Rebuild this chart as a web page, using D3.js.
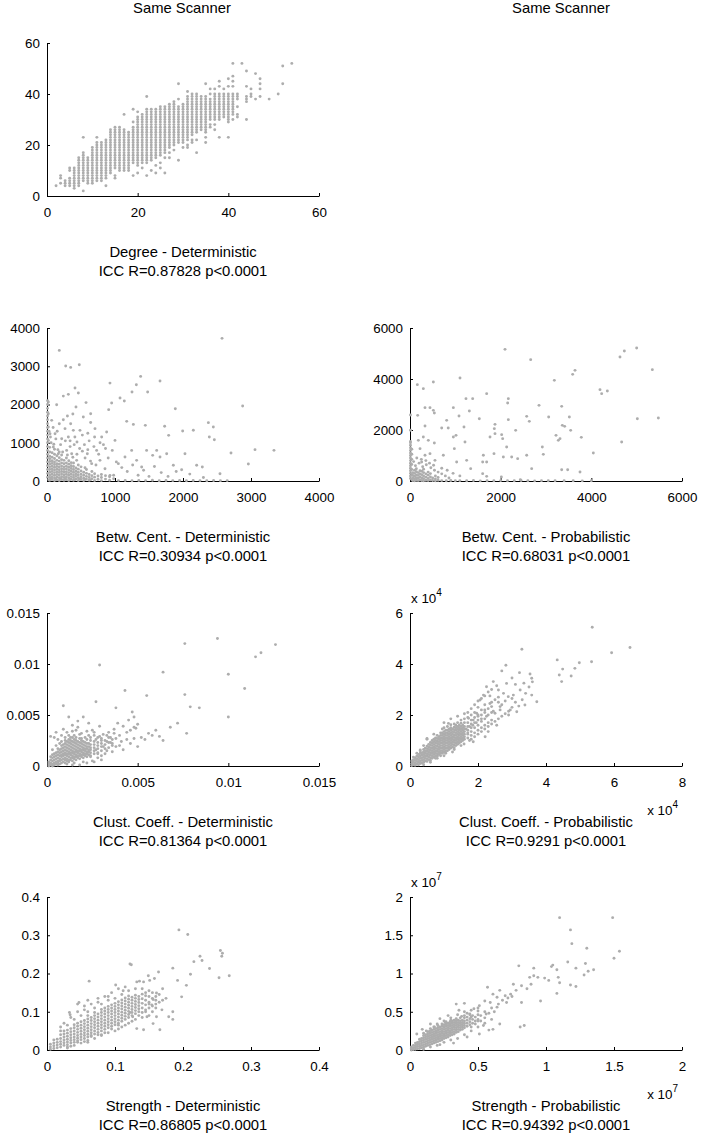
<!DOCTYPE html>
<html>
<head>
<meta charset="utf-8">
<script src="https://cdn.jsdelivr.net/npm/d3@7/dist/d3.min.js"></script>
<style>
  body { margin: 0; background: #fff; }
  svg { display: block; }
</style>
</head>
<body>
<svg id="fig" width="705" height="1134"></svg>
<script>
// ---- data ----
// dense data are kept as columns [x, [y, y, ...]], sparse ones as [x, y]

const degreeCols = [
  [2,[4]],[3,[5,7,8]],[4,[4,5,6]],[5,[4,5,6,7,10,11]],[6,[3,4,5,6,7,8,9,10,11]],
  [7,[4,5,6,7,8,9,10,11,12,13,14,15]],[8,[2,6,7,8,9,10,11,12,13,14,15,16,17,23]],
  [9,[5,6,7,8,9,10,11,12,13,14,15]],[10,[5,6,7,8,9,10,11,12,13,14,15,16,17,18,19]],
  [11,[6,7,8,9,10,11,12,13,14,15,16,17,18,19,20,21,23]],[12,[6,7,8,9,10,11,12,13,14,15,16,17,18,19,20,21]],
  [13,[4,7,8,9,10,11,12,13,14,15,16,17,18,19,20,21,22]],[14,[9,10,11,12,13,14,15,16,17,18,19,20,21,22,23,24,25,26]],
  [15,[7,8,11,12,13,14,15,16,17,18,19,20,21,22,23,24,25,26,27]],[16,[10,11,12,13,14,15,16,17,18,19,20,21,22,23,24,25,26,27]],
  [17,[10,11,12,13,14,15,16,17,18,19,20,21,22,23,24,25,26,32]],[18,[10,11,12,13,14,15,16,17,18,19,20,21,22,23,24,25]],
  [19,[8,13,14,15,16,17,18,19,20,21,22,23,24,25,26,27,29,34]],
  [20,[9,12,13,14,15,16,17,18,19,20,21,22,23,24,25,26,27,28,29,30,31,33]],
  [21,[11,13,14,15,16,17,18,19,20,21,22,23,24,25,26,27,28,29,30,31,32]],
  [22,[8,13,14,15,16,17,18,19,20,21,22,23,24,25,26,27,28,29,30,31,32,33,34,39]],
  [23,[10,14,15,16,17,18,19,20,21,22,23,24,25,26,27,28,29,30,31,32,33,34]],
  [24,[9,12,15,16,17,18,19,20,21,22,23,24,25,26,27,28,29,30,31,32,33,34]],
  [25,[11,13,16,17,18,19,20,21,22,23,24,25,26,27,28,29,30,31,32,33,34,35]],
  [26,[9,15,17,18,19,20,21,22,23,24,25,26,27,28,29,30,31,32,33,34,35]],
  [27,[15,17,19,20,21,22,23,24,25,26,27,28,29,30,31,32,33,34,35,36]],
  [28,[18,20,21,22,23,24,25,26,27,28,29,30,31,32,33,34,35,36,37]],
  [29,[14,21,22,23,24,25,26,27,28,29,30,31,32,33,34,35,38,44]],
  [30,[19,21,22,23,24,25,26,27,28,29,30,31,32,33,34,35,36]],
  [31,[19,20,22,23,24,25,26,27,28,29,30,31,32,33,34,35,36,37,38,39,41]],
  [32,[21,22,24,25,26,27,28,29,30,31,32,33,34,35,36,37,38,39,40]],
  [33,[17,22,25,26,27,28,29,30,31,32,33,34,35,36,37,38,39,40]],
  [34,[26,27,28,29,30,31,32,33,34,35,36,37,38,39]],
  [35,[21,23,25,26,27,28,29,30,31,32,33,34,35,36,37,38,39,44]],
  [36,[27,28,30,31,32,33,34,35,36,37,38,40,42]],
  [37,[26,28,30,31,32,33,34,35,36,37,38,39,40,42]],
  [38,[23,30,31,32,33,34,35,36,37,38,39,40,43,45]],
  [39,[31,32,33,34,35,36,37,38,39,40,42]],
  [40,[23,29,30,31,32,33,34,35,36,37,38,39,40,43,46]],
  [41,[30,32,33,34,35,36,37,38,39,40,43,45,47,52]],
  [42,[31,32,35,38,39,40]],[43,[52]],[44,[30,37,38,39,43,49]],[45,[39,40,42]],
  [46,[38,48]],[47,[39,42,44,46]],[49,[38]],[51,[40]],[52,[44,51]],[54,[52]]
];

const betwDetCols = [
  [8,[100,200,300,400,500,600,700,800,900,1000,1100,1200,1300,1400,1500,1600,1700,1800,1900,2000,2100]],
  [40,[20,90,160,230,300,370,440,510,580,650,760,880]],
  [75,[40,110,180,250,320,390,460,530,620,740]],
  [110,[10,80,150,220,290,360,430,500,590,700,830]],
  [145,[30,100,170,240,310,380,450,540,660]],
  [180,[15,85,155,225,295,365,440,520,610,760]],
  [215,[40,110,180,250,320,390,470,560,680]],
  [250,[20,90,160,230,300,370,450,540]],
  [285,[35,105,175,245,315,385,470,600]],
  [320,[10,80,150,220,290,360,440,530]],
  [355,[45,115,185,255,325,400,480]],
  [390,[20,90,160,230,300,380,470]],
  [425,[50,120,190,260,340]],
  [460,[15,85,155,230,310,420]],
  [500,[40,110,180,260,370]],
  [540,[10,75,150,230]],
  [580,[50,120,200,300]],
  [620,[20,90,170]],
  [660,[60,140,250]],
  [700,[15,100,190]],
  [750,[45,130]],
  [800,[10,90,170]],
  [860,[50,140]],
  [920,[20,110]],
  [980,[60,150]]
];
const betwDetPts = [
  [1050,10],[1150,15],[1250,8],[1350,12],[1450,10],[1550,18],[1650,6],[1750,12],[1850,10],[1950,14],
  [2050,8],[2150,12],[2250,10],[2350,6],[2450,12],[2550,9],[2650,10],
  [181,3415],[275,3005],[348,2970],[475,3040],[20,2065],[142,1995],[240,2220],[314,2265],[412,2430],
  [461,2300],[426,1935],[574,2050],[642,1760],[642,1530],[926,2560],[907,1865],[951,2040],[1074,2170],
  [1137,2090],[1250,2325],[1314,2515],[1377,2735],[1480,2325],[1662,2613],[1887,1890],[1172,1560],
  [1270,1480],[1446,1455],[1730,1430],[1789,1193],[1995,1307],[2152,1325],[2373,1525],[2446,1411],
  [2461,1080],[2387,1150],[2574,3730],[2877,1960],[2706,732],[3059,819],[3338,801],[2961,444],
  [2544,190],[2201,410],[2284,366],[2029,714],[1980,296],[1858,410],[1760,714],[1662,627],[1613,800],
  [1554,670],[1465,800],[1392,366],[1318,540],[1245,800],[1147,627],[1049,453],[1000,1062],[877,1280],
  [804,1150],[730,800],[706,1368],[779,540],[853,322],[926,148],[593,714],[657,453],[559,348],
  [534,1672],[485,1324],[441,1019],[387,1324],[348,1498],[314,1150],[265,1368],[216,1106],[181,1498],
  [118,1237],[69,1585],[44,1237],[20,1760],[20,1411],[20,1062],[93,888],[167,714],[289,800],[363,714],[436,540],
  [60,1000],[130,1100],[200,950],[270,1050],[340,900],[410,1150],[480,850],[550,950],[620,1050],[690,900],
  [760,700],[830,950],[900,600],[960,800],[1020,500],[1100,350],[1180,250],[1260,420],[1340,150],[1420,280],
  [1500,120],[1580,380],[1680,220],[1780,120],[1900,250],[2100,180],[2300,90],[30,1300],[90,1400],[150,1300],
  [240,1600],[300,1700],[380,1750],[520,1200],[600,1250],[700,1150],[780,1000],[860,850],[560,600],[640,520],
  [720,420],[520,780],[600,820],[380,620],[440,700],[300,680],[230,760],[160,820],[100,960],[50,1150],
  [400,950],[340,1050],[25,30],[60,60],[130,50],[200,60],[270,55],[340,40],[410,35],[480,55],[560,40],[640,30]
];

const betwProbCols = [
  [10,[100,200,300,400,500,600,700,800,900,1000,1100,1200,1300,1400,1500,1550]],
  [40,[50,250,450,650,850,1050,1250]],
  [60,[20,120,220,330]],
  [100,[10,90,190,300,420]],
  [140,[30,130,240,360,480]],
  [180,[15,110,220,330]],
  [220,[40,160,280,400]],
  [260,[20,120,250,380]],
  [300,[10,90,200,330,460]],
  [350,[30,150,280]],
  [400,[15,100,230,350]],
  [450,[40,160,290]],
  [500,[20,120]],
  [560,[10,80,200]],
  [620,[30,140]],
  [700,[15]]
];
const betwProbPts = [
  [800,12],[900,20],[1000,8],[1100,15],[1250,10],[1400,18],[1550,6],[1700,12],[1850,10],[2000,15],
  [2150,8],[2300,12],[2450,20],[2600,10],[2750,6],[2900,14],[3050,10],[3200,8],[3400,12],[3600,10],
  [3800,6],[4000,12],[10,1990],[10,2590],
  [2096,5163],[2662,4758],[3640,4340],[3588,4183],[3184,3948],[4632,4863],[4728,5098],[5000,5216],
  [5346,4366],[4191,3582],[4228,3425],[4353,3529],[5015,2444],[5478,2471],[4669,1529],[4044,1098],
  [3346,2928],[3515,2510],[3360,2183],[3412,2144],[3544,1987],[3779,1712],[3221,1791],[3272,1595],
  [3309,1660],[3059,2510],[2846,2967],[2632,2340],[2574,2536],[2919,1333],[2941,1046],[2574,1007],
  [2331,1987],[2169,3229],[2154,3059],[2169,2405],[2132,1333],[2059,941],[2243,941],[2375,876],
  [1691,3425],[1875,2222],[1860,2052],[1875,1856],[1765,1725],[2022,1817],[2044,1660],[1853,1072],
  [1618,1007],[1603,745],[1691,745],[1529,2444],[1382,3229],[1235,3229],[1103,4039],[1309,2745],
  [1191,2118],[1213,1529],[1081,2549],[1015,1791],[956,1725],[978,1268],[809,2379],[699,2078],
  [735,1007],[843,2078],[956,2876],[515,3882],[162,3778],[294,3621],[331,2876],[441,2876],[515,2771],
  [537,2667],[331,2157],[169,2575],[294,1725],[404,1595],[537,1490],[184,1595],[221,1268],[441,1072],
  [551,810],[331,1007],[257,745],[1029,745],[1338,484],[1603,288],[1250,810],[1691,183],[2015,157],
  [2684,484],[3346,444],[3478,444],[3750,353],[2434,52],
  [120,600],[200,700],[280,560],[360,640],[460,520],[540,420],[620,350],[700,280],[780,200],[860,120],
  [150,900],[250,850],[350,800],[430,700],[520,620],[80,760],[700,500],[820,420],[950,300],[1100,200]
];

// clustering coefficient, deterministic: values in units of 1e-4
const clustDetCols = [
  [1,[0,2,4]],[2,[1,3,6,9]],[3,[0,2,5,8,11]],[4,[1,3,6,9,12,28]],[5,[2,4,7,10,13]],
  [6,[1,3,5,8,11,14,17]],[7,[2,5,7,10,13,16]],[8,[3,6,9,11,14,17,20]],[9,[4,7,10,12,15,18,21]],
  [10,[3,6,8,11,13,16,19,22,25]],[11,[5,7,10,12,15,18,21,24]],[12,[4,6,9,12,14,17,20,23,26]],
  [13,[6,8,11,13,16,19,22,25]],[14,[5,8,10,13,15,18,21,24,28]],[15,[7,9,12,14,17,20,23,26]],
  [16,[6,9,11,14,16,19,22,25]],[17,[8,10,13,15,18,21,24]],[18,[7,10,12,15,17,20,23,27]],
  [19,[9,11,14,16,19,22,25]],[20,[8,11,13,16,18,21,24]],[21,[10,12,15,17,20,23]],
  [22,[9,12,14,17,19,22,26]],[23,[11,14,16,19,22]],[24,[10,13,16,18,21,25]],
  [26,[12,15,18,21,24]],[28,[13,17,20,23,28]],[30,[15,19,22,27]],[32,[17,21,25]],
  [34,[18,23,28]],[36,[20,26]]
];
const clustDetPts = [
  [94,125],[76,120],[126,119],[115,107],[118,111],[29,99],[64,92],[100,90],[109,76],[76,70],[55,69],
  [43,74],[38,57],[27,63],[9,59],[79,58],[84,57],[100,48],[77,32],[64,25],[58,30],[54,26],[47,53],
  [48,48],[50,41],[49,37],[48,27],[50,19],[45,45],[42,39],[39,42],[37,32],[33,30],[35,23],[29,39],
  [26,30],[23,42],[20,48],[17,44],[14,40],[12,48],[2,29],[5,33],[22,12],[27,16],[31,19],[38,19],
  [44,26],[42,16],[24,9],[8,30],[11,33],[16,35],[19,32],[25,35],[28,12],[33,15],
  [5,20],[8,24],[10,28],[12,30],[15,30],[18,31],[21,28],[24,28],[27,26],[30,25],[33,24],[36,22],
  [38,27],[40,30],[44,33],[46,35],[48,38],[41,24],[35,28],[31,31],[26,33],[22,34],[17,38],[14,34],
  [9,36],[6,26],[3,16],[7,22],[28,8],[32,12],[36,14],[40,20],[46,22],[52,28],[56,32],[60,35],[62,29],
  [68,38],[72,42],[25,5],[30,10],[20,4],[15,3],[18,1],[22,3],[26,4],[30,6],[13,28],[16,28],[19,27],
  [23,30],[29,29],[34,33],[37,36],[11,2],[14,1]
];

// clustering coefficient, probabilistic: values in units of 1e4
const clustProbCols = [
  [0.05,[0.02,0.1,0.2]],[0.1,[0.05,0.15,0.25,0.35]],[0.15,[0.03,0.12,0.22,0.32]],
  [0.2,[0.08,0.18,0.28,0.38,0.5]],[0.25,[0.05,0.15,0.25,0.35,0.45]],[0.3,[0.1,0.2,0.3,0.4,0.5,0.6]],
  [0.35,[0.12,0.22,0.32,0.42,0.52]],[0.4,[0.15,0.25,0.35,0.45,0.55,0.65,0.8]],
  [0.45,[0.2,0.3,0.4,0.5,0.6,0.7]],[0.5,[0.18,0.28,0.38,0.48,0.58,0.68,0.78,1.05]],
  [0.55,[0.25,0.35,0.45,0.55,0.65,0.75,0.85]],[0.6,[0.22,0.32,0.42,0.52,0.62,0.72,0.82,0.92]],
  [0.65,[0.3,0.4,0.5,0.6,0.7,0.8,0.9,1.0]],[0.7,[0.35,0.45,0.55,0.65,0.75,0.85,0.95,1.05]],
  [0.75,[0.3,0.4,0.5,0.6,0.7,0.8,0.9,1.0,1.1]],[0.8,[0.38,0.48,0.58,0.68,0.78,0.88,0.98,1.08,1.2]],
  [0.85,[0.45,0.55,0.65,0.75,0.85,0.95,1.05,1.15]],[0.9,[0.4,0.5,0.6,0.7,0.8,0.9,1.0,1.1,1.2,1.3]],
  [0.95,[0.5,0.6,0.7,0.8,0.9,1.0,1.1,1.2,1.3]],[1.0,[0.55,0.65,0.75,0.85,0.95,1.05,1.15,1.25,1.35,1.5]],
  [1.05,[0.5,0.6,0.7,0.8,0.9,1.0,1.1,1.2,1.3,1.4]],[1.1,[0.6,0.7,0.8,0.9,1.0,1.1,1.2,1.3,1.4,1.55]],
  [1.15,[0.65,0.75,0.85,0.95,1.05,1.15,1.25,1.35,1.45]],[1.2,[0.7,0.8,0.9,1.0,1.1,1.2,1.3,1.4,1.5,1.62]],
  [1.25,[0.75,0.85,0.95,1.05,1.15,1.25,1.35,1.45]],[1.3,[0.72,0.82,0.92,1.02,1.12,1.22,1.32,1.42,1.52,1.65]],
  [1.35,[0.8,0.9,1.0,1.1,1.2,1.3,1.4,1.5,1.6]],[1.4,[0.85,0.95,1.05,1.15,1.25,1.35,1.45,1.55,1.7]],
  [1.45,[0.9,1.0,1.1,1.2,1.3,1.4,1.5,1.6]],[1.5,[0.95,1.05,1.15,1.25,1.35,1.45,1.55,1.68,1.8]],
  [1.55,[1.0,1.1,1.2,1.3,1.4,1.5,1.6]],[1.6,[1.05,1.15,1.25,1.35,1.45,1.55,1.7,1.85]],
  [1.7,[1.1,1.25,1.4,1.55,1.7,1.9]],[1.8,[1.2,1.35,1.5,1.65,1.8,2.0]],[1.9,[1.3,1.5,1.7,1.9,2.1]],
  [2.0,[1.4,1.6,1.8,2.0,2.3]],[2.1,[1.5,1.75,2.0,2.2]],[2.2,[1.6,1.85,2.1,2.4]],
  [2.3,[1.7,2.0,2.25]],[2.4,[1.8,2.1,2.5]]
];
const clustProbPts = [
  [5.36,5.44],[6.47,4.65],[5.93,4.44],[5.34,4.09],[4.98,4.05],[4.85,3.83],[4.74,3.53],[4.49,3.80],
  [4.39,3.57],[4.46,3.31],[4.33,4.16],[3.29,4.58],[2.82,3.95],[2.70,3.73],[3.22,3.66],[3.53,3.61],
  [3.58,3.44],[3.73,2.52],[3.58,2.78],[3.38,2.39],[3.14,2.13],[3.04,2.78],[3.24,2.98],[2.84,3.24],
  [2.75,2.85],[2.89,2.72],[2.60,2.98],[2.45,3.31],[2.25,3.11],[2.21,1.15],[1.86,0.95],[1.59,0.86],
  [2.40,2.33],[2.65,2.33],[2.50,2.07],[2.06,2.59],[2.16,2.78],[1.96,2.07],[1.86,1.80],[1.72,1.87],
  [0.5,1.08],[0.3,0.63],[1.13,1.67],[0.95,1.45],[1.4,1.95],[1.6,2.05],[2.55,1.6],[2.3,1.35],
  [1.25,0.55],[1.75,1.0],[2.6,2.5],[2.95,2.2],[3.1,3.2],[2.35,2.75],
  [1.7,1.3],[1.8,1.05],[1.9,1.15],[2.0,1.25],[2.1,1.35],[2.2,1.45],[2.3,1.55],[2.4,1.65],[2.5,1.75],
  [2.6,1.85],[2.7,1.95],[2.8,2.05],[2.9,2.15],[3.0,2.3],[1.7,2.1],[1.8,2.25],[1.9,2.4],[2.0,2.55],
  [2.1,2.65],[2.2,2.75],[2.3,2.9],[2.4,3.0],[2.5,2.6],[2.6,2.7],[2.7,2.4],[2.8,2.55],[2.9,2.0],
  [3.0,2.65],[3.1,2.5],[3.2,2.35],[3.3,2.6],[3.4,2.85],[3.5,3.1],[3.6,3.3],[3.35,3.25],[3.0,3.45],
  [2.55,3.15],[2.35,2.45],[2.2,2.2],[2.0,1.95],[1.85,1.6],[1.95,1.7],[2.1,1.85],[2.25,1.95],
  [2.45,2.15],[2.65,2.2],[1.65,1.45],[1.75,1.55],[1.2,1.85],[1.0,1.7],[0.7,1.25],[0.8,0.3],[1.0,0.4],
  [1.3,0.65],[1.5,0.8],[0.6,0.15],[0.4,0.05]
];

const strDetCols = [
  [0.005,[0.002,0.008,0.015]],[0.01,[0.004,0.011,0.018,0.026]],[0.015,[0.006,0.013,0.02,0.028]],
  [0.02,[0.008,0.015,0.022,0.03,0.04]],[0.025,[0.012,0.019,0.026,0.034,0.042,0.05]],
  [0.03,[0.014,0.021,0.028,0.036,0.044,0.052]],[0.035,[0.018,0.025,0.032,0.04,0.048,0.056]],
  [0.04,[0.02,0.027,0.034,0.042,0.05,0.058,0.066]],[0.045,[0.024,0.031,0.038,0.046,0.054,0.062,0.07]],
  [0.05,[0.027,0.034,0.041,0.049,0.057,0.065,0.074]],[0.055,[0.03,0.038,0.045,0.053,0.061,0.069,0.077]],
  [0.06,[0.034,0.041,0.049,0.057,0.065,0.073,0.081,0.09]],[0.065,[0.038,0.045,0.053,0.061,0.069,0.077,0.085]],
  [0.07,[0.042,0.05,0.058,0.066,0.074,0.082,0.09,0.098]],[0.075,[0.046,0.054,0.062,0.07,0.078,0.086,0.094]],
  [0.08,[0.05,0.058,0.066,0.074,0.082,0.09,0.098,0.106]],[0.085,[0.054,0.062,0.07,0.078,0.086,0.094,0.102,0.11]],
  [0.09,[0.058,0.066,0.074,0.082,0.09,0.098,0.106,0.114]],[0.095,[0.062,0.07,0.078,0.086,0.094,0.102,0.11,0.118]],
  [0.1,[0.066,0.074,0.082,0.09,0.098,0.106,0.114,0.122]],[0.105,[0.07,0.078,0.086,0.094,0.102,0.11,0.118,0.126]],
  [0.11,[0.075,0.083,0.091,0.099,0.107,0.115,0.123,0.131]],[0.115,[0.08,0.088,0.096,0.104,0.112,0.12,0.128,0.136]],
  [0.12,[0.085,0.093,0.101,0.109,0.117,0.125,0.133,0.141]],[0.125,[0.09,0.098,0.106,0.114,0.122,0.13,0.138]],
  [0.13,[0.095,0.103,0.111,0.119,0.127,0.135,0.143]],[0.135,[0.1,0.108,0.116,0.124,0.132,0.14]],
  [0.14,[0.098,0.11,0.122,0.134,0.146]],[0.145,[0.105,0.118,0.13,0.142]],[0.15,[0.11,0.125,0.14]],
  [0.155,[0.115,0.135]],[0.16,[0.12,0.14]]
];
const strDetPts = [
  [0.194,0.314],[0.207,0.302],[0.255,0.260],[0.258,0.253],[0.257,0.245],[0.268,0.194],[0.253,0.189],
  [0.239,0.213],[0.225,0.245],[0.228,0.234],[0.216,0.231],[0.211,0.198],[0.205,0.169],[0.198,0.139],
  [0.192,0.182],[0.185,0.214],[0.164,0.204],[0.158,0.187],[0.149,0.194],[0.151,0.182],[0.122,0.225],
  [0.124,0.223],[0.132,0.178],[0.142,0.178],[0.136,0.180],[0.101,0.170],[0.062,0.180],[0.033,0.098],
  [0.034,0.092],[0.047,0.124],[0.185,0.100],[0.185,0.080],[0.179,0.087],[0.156,0.069],[0.166,0.053],
  [0.142,0.053],[0.132,0.056],[0.161,0.149],[0.156,0.132],[0.154,0.118],[0.169,0.105],[0.161,0.087],
  [0.147,0.087],[0.126,0.087],[0.122,0.098],[0.175,0.135],[0.17,0.16],[0.112,0.155],[0.09,0.14],
  [0.075,0.125],[0.055,0.105],[0.02,0.06],[0.08,0.04],[0.105,0.055],[0.06,0.02],[0.03,0.005],
  [0.02,0.05],[0.03,0.065],[0.04,0.08],[0.05,0.09],[0.06,0.1],[0.07,0.11],[0.08,0.12],[0.09,0.13],
  [0.1,0.135],[0.11,0.145],[0.12,0.155],[0.13,0.16],[0.14,0.16],[0.15,0.155],[0.025,0.07],[0.035,0.085],
  [0.045,0.1],[0.055,0.115],[0.065,0.12],[0.075,0.135],[0.085,0.14],[0.095,0.15],[0.105,0.16],
  [0.115,0.165],[0.045,0.12],[0.06,0.13],
  [0.03,0.008],[0.04,0.012],[0.05,0.018],[0.06,0.025],[0.07,0.03],[0.08,0.038],[0.09,0.045],[0.1,0.05],
  [0.11,0.06],[0.12,0.07],[0.13,0.08],[0.14,0.085],[0.15,0.09],[0.155,0.1],[0.16,0.11],[0.165,0.125],
  [0.17,0.13],[0.165,0.145],[0.155,0.15],[0.145,0.15],[0.035,0.01],[0.045,0.02],[0.055,0.022],
  [0.065,0.035],[0.075,0.04],[0.085,0.045],[0.095,0.055],[0.105,0.065],[0.115,0.065],[0.125,0.075],
  [0.135,0.09],[0.145,0.1],[0.15,0.12],[0.16,0.13]
];

// strength, probabilistic: values in units of 1e7
const strProbCols = [
  [0.01,[0,0.02,0.04]],[0.025,[0.005,0.03,0.06]],[0.04,[0.01,0.035,0.06,0.09]],
  [0.055,[0.015,0.045,0.075,0.1]],[0.07,[0.02,0.05,0.08,0.11,0.14]],[0.085,[0.03,0.06,0.09,0.12,0.15]],
  [0.1,[0.04,0.07,0.1,0.13,0.16,0.19]],[0.115,[0.05,0.08,0.11,0.14,0.17,0.2]],
  [0.13,[0.06,0.09,0.12,0.15,0.18,0.21,0.24]],[0.145,[0.07,0.1,0.13,0.16,0.19,0.22,0.25]],
  [0.16,[0.08,0.11,0.14,0.17,0.2,0.23,0.26]],[0.175,[0.09,0.12,0.15,0.18,0.21,0.24,0.27,0.3]],
  [0.19,[0.1,0.13,0.16,0.19,0.22,0.25,0.28]],[0.205,[0.11,0.14,0.17,0.2,0.23,0.26,0.29,0.32]],
  [0.22,[0.12,0.15,0.18,0.21,0.24,0.27,0.3]],[0.235,[0.13,0.16,0.19,0.22,0.25,0.28,0.31,0.34]],
  [0.25,[0.15,0.18,0.21,0.24,0.27,0.3,0.33]],[0.265,[0.16,0.19,0.22,0.25,0.28,0.31,0.34,0.37]],
  [0.28,[0.17,0.2,0.23,0.26,0.29,0.32,0.35]],[0.295,[0.19,0.22,0.25,0.28,0.31,0.34,0.37]],
  [0.31,[0.2,0.23,0.26,0.29,0.32,0.35,0.38]],[0.325,[0.21,0.24,0.27,0.3,0.33,0.36,0.39]],
  [0.34,[0.23,0.26,0.29,0.32,0.35,0.38,0.41]],[0.355,[0.24,0.27,0.3,0.33,0.36,0.39]],
  [0.37,[0.26,0.29,0.32,0.35,0.38,0.42]],[0.385,[0.27,0.3,0.33,0.36,0.39]],
  [0.4,[0.29,0.32,0.35,0.38,0.42,0.45]],[0.42,[0.31,0.35,0.39,0.43]],[0.44,[0.33,0.37,0.41,0.46]],
  [0.46,[0.35,0.4,0.45]],[0.48,[0.38,0.43]],[0.5,[0.4,0.46]]
];
const strProbPts = [
  [1.10,1.73],[1.49,1.73],[1.18,1.57],[1.19,1.39],[1.30,1.33],[1.54,1.29],[1.50,1.20],[1.16,1.15],
  [1.29,1.13],[1.35,1.05],[1.31,1.03],[1.22,1.07],[1.28,0.98],[1.05,1.11],[1.04,1.09],[0.99,0.94],
  [1.02,0.91],[1.08,1.05],[1.09,0.95],[1.10,0.88],[1.18,0.85],[1.22,0.83],[1.08,0.74],[0.96,0.64],
  [0.80,1.10],[0.91,1.07],[0.91,0.97],[0.94,0.95],[0.88,0.95],[0.81,0.30],[0.84,0.32],[0.89,0.86],
  [0.86,0.80],[0.82,0.84],[0.78,0.78],[0.82,0.62],[0.76,0.86],[0.74,0.73],[0.70,0.71],[0.71,0.62],
  [0.66,0.78],[0.64,0.69],[0.57,0.82],[0.61,0.73],[0.59,0.62],[0.64,0.56],[0.55,0.64],[0.51,0.58],
  [0.50,0.51],[0.56,0.47],[0.61,0.27],[0.66,0.34],[0.47,0.54],[0.44,0.47],[0.40,0.61],[0.34,0.60],
  [0.50,0.38],[0.54,0.32],[0.05,0.21],[0.09,0.27],[0.15,0.34],[0.22,0.41],[0.22,0.07],[0.32,0.09],
  [0.42,0.17],[0.51,0.21],[0.58,0.26],[0.28,0.45],[0.36,0.52],[0.45,0.3],
  [0.1,0.22],[0.15,0.28],[0.2,0.34],[0.25,0.38],[0.3,0.42],[0.35,0.46],[0.4,0.5],[0.45,0.52],[0.5,0.55],
  [0.55,0.5],[0.6,0.55],[0.52,0.45],[0.55,0.42],[0.58,0.48],[0.62,0.5],[0.65,0.6],[0.68,0.65],[0.72,0.68],
  [0.75,0.7],[0.1,0.01],[0.15,0.04],[0.2,0.06],[0.25,0.1],[0.3,0.13],[0.35,0.15],[0.4,0.2],[0.45,0.25],
  [0.5,0.3],[0.55,0.35],[0.6,0.4],[0.48,0.34],[0.52,0.38],[0.45,0.43],[0.42,0.48],[0.38,0.44],[0.3,0.39],
  [0.26,0.36],[0.18,0.3],[0.12,0.25]
];

// tick values and labels
const degTicks = [0, 20, 40, 60];
const betwDetTicks = [0, 1000, 2000, 3000, 4000];
const betwProbTicks = [0, 2000, 4000, 6000];
const clustDetTicks = [0, 50, 100, 150];
const clustDetTickLabels = ['0', '0.005', '0.01', '0.015'];
const clustProbXTicks = [0, 2, 4, 6, 8];
const clustProbYTicks = [0, 2, 4, 6];
const strDetTicks = [0, 0.1, 0.2, 0.3, 0.4];
const strProbTicks = [0, 0.5, 1, 1.5, 2];

const columnTitles = ['Same Scanner', 'Same Scanner'];

// ---- layout ----
const FONT = '"Liberation Sans", Arial, Helvetica, sans-serif';
const colX = [[47, 319], [410, 682]];
const rowTop = [43, 328, 613, 897];
const plotH = 153;
const dotColor = '#adadad';
const titleSize = 14.8;
const tickSize = 13.4;

const panels = [
  { row: 0, col: 0, cols: degreeCols, pts: [], xDomain: [0, 60], yDomain: [0, 60],
    xTicks: degTicks, yTicks: degTicks,
    label: ['Degree - Deterministic', 'ICC R=0.87828 p<0.0001'] },
  { row: 1, col: 0, cols: betwDetCols, pts: betwDetPts, xDomain: [0, 4000], yDomain: [0, 4000],
    xTicks: betwDetTicks, yTicks: betwDetTicks,
    label: ['Betw. Cent. - Deterministic', 'ICC R=0.30934 p<0.0001'] },
  { row: 1, col: 1, cols: betwProbCols, pts: betwProbPts, xDomain: [0, 6000], yDomain: [0, 6000],
    xTicks: betwProbTicks, yTicks: betwProbTicks,
    label: ['Betw. Cent. - Probabilistic', 'ICC R=0.68031 p<0.0001'] },
  { row: 2, col: 0, cols: clustDetCols, pts: clustDetPts, xDomain: [0, 150], yDomain: [0, 150],
    xTicks: clustDetTicks, yTicks: clustDetTicks, tickLabels: clustDetTickLabels,
    label: ['Clust. Coeff. - Deterministic', 'ICC R=0.81364 p<0.0001'] },
  { row: 2, col: 1, cols: clustProbCols, pts: clustProbPts, xDomain: [0, 8], yDomain: [0, 6],
    xTicks: clustProbXTicks, yTicks: clustProbYTicks, exponent: '4',
    label: ['Clust. Coeff. - Probabilistic', 'ICC R=0.9291 p<0.0001'] },
  { row: 3, col: 0, cols: strDetCols, pts: strDetPts, xDomain: [0, 0.4], yDomain: [0, 0.4],
    xTicks: strDetTicks, yTicks: strDetTicks,
    label: ['Strength - Deterministic', 'ICC R=0.86805 p<0.0001'] },
  { row: 3, col: 1, cols: strProbCols, pts: strProbPts, xDomain: [0, 2], yDomain: [0, 2],
    xTicks: strProbTicks, yTicks: strProbTicks, exponent: '7',
    label: ['Strength - Probabilistic', 'ICC R=0.94392 p<0.0001'] }
];

const svg = d3.select('#fig');

svg.selectAll('text.col-title')
  .data(columnTitles)
  .enter()
  .append('text')
  .attr('class', 'col-title')
  .attr('x', (d, i) => (i === 0 ? 182 : 561))
  .attr('y', 13)
  .attr('text-anchor', 'middle')
  .attr('font-family', FONT)
  .attr('font-size', titleSize)
  .text(d => d);

panels.forEach(p => {
  const [x0, x1] = colX[p.col];
  const y0 = rowTop[p.row];
  const y1 = y0 + plotH;

  const xScale = d3.scaleLinear().domain(p.xDomain).range([x0, x1]);
  const yScale = d3.scaleLinear().domain(p.yDomain).range([y1, y0]);

  const fmt = (d, i) => (p.tickLabels ? p.tickLabels[i] : String(d));

  const xAxis = d3.axisBottom(xScale).tickValues(p.xTicks).tickFormat(fmt)
    .tickSizeInner(-3).tickSizeOuter(0).tickPadding(11);
  const yAxis = d3.axisLeft(yScale).tickValues(p.yTicks).tickFormat(fmt)
    .tickSizeInner(-3).tickSizeOuter(0).tickPadding(7);

  svg.append('g')
    .attr('transform', `translate(0,${y1})`)
    .call(xAxis)
    .call(g => g.selectAll('text').attr('font-family', FONT).attr('font-size', tickSize).attr('fill', '#000'))
    .call(g => g.selectAll('path,line').attr('stroke', '#000'));

  svg.append('g')
    .attr('transform', `translate(${x0},0)`)
    .call(yAxis)
    .call(g => g.selectAll('text').attr('font-family', FONT).attr('font-size', tickSize).attr('fill', '#000'))
    .call(g => g.selectAll('path,line').attr('stroke', '#000'));

  const points = [];
  p.cols.forEach(([cx, ys]) => ys.forEach(cy => points.push([cx, cy])));
  p.pts.forEach(d => points.push(d));

  svg.append('g')
    .selectAll('circle')
    .data(points)
    .enter()
    .append('circle')
    .attr('cx', d => xScale(d[0]))
    .attr('cy', d => yScale(d[1]))
    .attr('r', 1.45)
    .attr('fill', dotColor);

  const cx = (x0 + x1) / 2;
  svg.append('text')
    .attr('x', cx).attr('y', y1 + 61)
    .attr('text-anchor', 'middle')
    .attr('font-family', FONT).attr('font-size', titleSize)
    .text(p.label[0]);
  svg.append('text')
    .attr('x', cx).attr('y', y1 + 80)
    .attr('text-anchor', 'middle')
    .attr('font-family', FONT).attr('font-size', titleSize)
    .text(p.label[1]);

  if (p.exponent) {
    const top = svg.append('text')
      .attr('x', x0 + 1).attr('y', y0 - 10)
      .attr('font-family', FONT).attr('font-size', tickSize);
    top.append('tspan').text('x 10');
    top.append('tspan').attr('dy', -7).attr('font-size', 10).text(p.exponent);

    const bottom = svg.append('text')
      .attr('x', x1 - 4).attr('y', y1 + 49)
      .attr('text-anchor', 'end')
      .attr('font-family', FONT).attr('font-size', tickSize);
    bottom.append('tspan').text('x 10');
    bottom.append('tspan').attr('dy', -7).attr('font-size', 10).text(p.exponent);
  }
});
</script>
</body>
</html>
